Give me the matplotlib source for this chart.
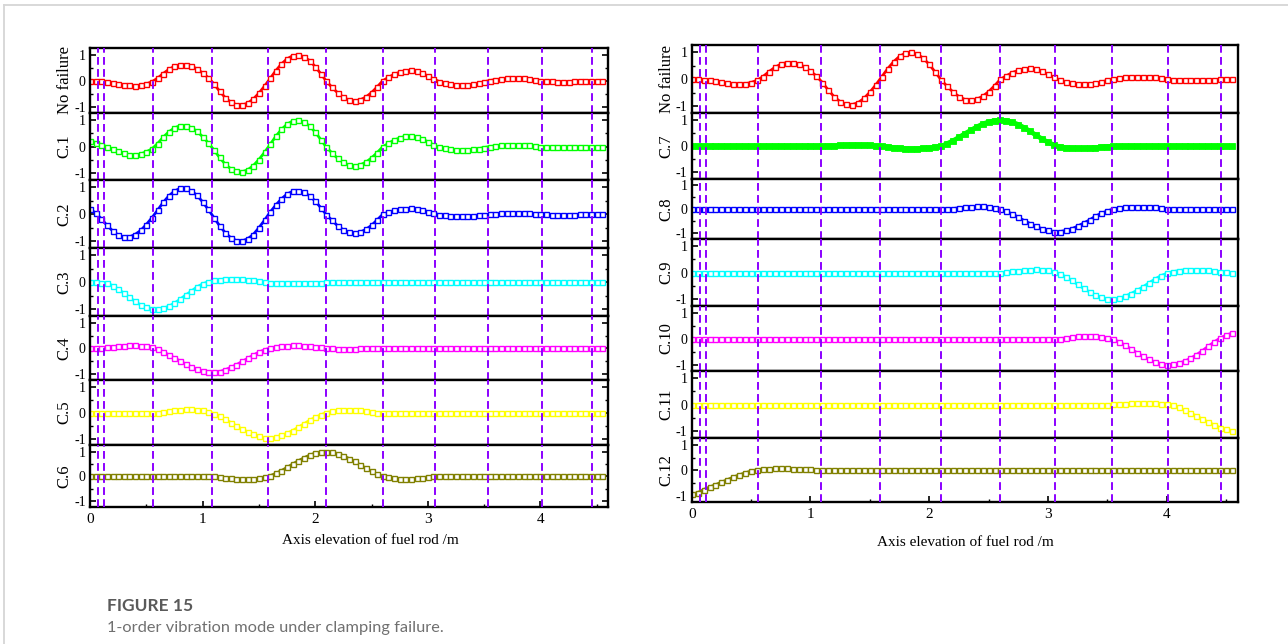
import numpy as np
import matplotlib
matplotlib.use('Agg')
import matplotlib.pyplot as plt
from matplotlib.lines import Line2D
from matplotlib.ticker import MultipleLocator, FixedLocator

plt.rcParams['font.family'] = ['Liberation Serif', 'DejaVu Serif']
plt.rcParams['axes.unicode_minus'] = False

# ---------------- data ----------------
elev = np.round(np.arange(92) * 0.05, 2)          # axis elevation samples (m)
spacers = [0.07, 0.12, 0.56, 1.085, 1.585, 2.10, 2.60, 3.06, 3.535, 4.01, 4.46]

no_failure = [0.00, 0.00, -0.01, -0.03, -0.07, -0.11, -0.15, -0.18, -0.19, -0.17,
              -0.12, -0.04, 0.10, 0.28, 0.44, 0.56, 0.62, 0.62, 0.57, 0.46,
              0.30, 0.12, -0.12, -0.40, -0.65, -0.83, -0.93, -0.94, -0.87, -0.71,
              -0.48, -0.21, 0.09, 0.39, 0.65, 0.85, 0.97, 1.00, 0.93, 0.78,
              0.55, 0.27, -0.02, -0.26, -0.47, -0.64, -0.75, -0.78, -0.74, -0.63,
              -0.46, -0.24, 0.00, 0.13, 0.25, 0.33, 0.39, 0.40, 0.37, 0.29,
              0.19, 0.07, -0.03, -0.09, -0.14, -0.17, -0.18, -0.17, -0.14, -0.10,
              -0.04, 0.01, 0.04, 0.07, 0.09, 0.10, 0.10, 0.09, 0.07, 0.04,
              0.01, -0.01, -0.02, -0.03, -0.03, -0.03, -0.02, -0.02, -0.01, 0.00,
              0.00, 0.00]

c1 = [0.22, 0.16, 0.08, 0.00, -0.08, -0.17, -0.25, -0.30, -0.31, -0.27,
      -0.19, -0.08, 0.12, 0.36, 0.56, 0.71, 0.79, 0.79, 0.72, 0.58,
      0.38, 0.15, -0.12, -0.40, -0.65, -0.83, -0.93, -0.94, -0.87, -0.71,
      -0.48, -0.21, 0.09, 0.39, 0.65, 0.85, 0.97, 1.00, 0.93, 0.78,
      0.55, 0.27, -0.02, -0.24, -0.44, -0.59, -0.69, -0.72, -0.68, -0.58,
      -0.42, -0.22, 0.00, 0.13, 0.25, 0.33, 0.39, 0.40, 0.37, 0.29,
      0.19, 0.07, -0.02, -0.06, -0.10, -0.12, -0.13, -0.12, -0.10, -0.07,
      -0.03, 0.01, 0.03, 0.06, 0.07, 0.08, 0.08, 0.07, 0.06, 0.04,
      0.01, -0.01, -0.02, -0.02, -0.02, -0.02, -0.02, -0.01, -0.01, 0.00,
      0.00, 0.00]

c2 = [0.20, 0.04, -0.16, -0.41, -0.61, -0.77, -0.84, -0.84, -0.75, -0.60,
      -0.38, -0.13, 0.15, 0.44, 0.68, 0.86, 0.96, 0.96, 0.87, 0.70,
      0.46, 0.18, -0.12, -0.42, -0.68, -0.87, -0.98, -0.99, -0.91, -0.75,
      -0.50, -0.22, 0.08, 0.34, 0.57, 0.75, 0.85, 0.88, 0.82, 0.68,
      0.49, 0.24, -0.02, -0.23, -0.43, -0.58, -0.67, -0.70, -0.66, -0.56,
      -0.41, -0.21, 0.00, 0.07, 0.14, 0.18, 0.21, 0.22, 0.20, 0.16,
      0.10, 0.04, -0.01, -0.03, -0.05, -0.06, -0.06, -0.06, -0.05, -0.03,
      -0.01, 0.00, 0.02, 0.03, 0.04, 0.05, 0.05, 0.05, 0.04, 0.02,
      0.00, 0.00, -0.01, -0.01, -0.01, -0.01, -0.01, 0.00, 0.00, 0.00,
      0.00, 0.00]

c3 = [0.00, 0.00, -0.01, -0.03, -0.12, -0.25, -0.40, -0.56, -0.71, -0.84,
      -0.93, -0.98, -1.00, -0.96, -0.89, -0.77, -0.63, -0.47, -0.33, -0.17,
      -0.06, 0.02, 0.07, 0.10, 0.12, 0.13, 0.13, 0.12, 0.10, 0.07,
      0.04, 0.01, -0.01, -0.02, -0.03, -0.03, -0.03, -0.02, -0.02, -0.01,
      -0.01, -0.01, 0.00, 0.00, 0.00, 0.00, 0.00, 0.00, 0.00, 0.00,
      0.00, 0.00, 0.00, 0.00, 0.00, 0.00, 0.00, 0.00, 0.00, 0.00,
      0.00, 0.00, 0.00, 0.00, 0.00, 0.00, 0.00, 0.00, 0.00, 0.00,
      0.00, 0.00, 0.00, 0.00, 0.00, 0.00, 0.00, 0.00, 0.00, 0.00,
      0.00, 0.00, 0.00, 0.00, 0.00, 0.00, 0.00, 0.00, 0.00, 0.00,
      0.00, 0.00]

c4 = [0.00, 0.01, 0.02, 0.04, 0.06, 0.08, 0.10, 0.11, 0.11, 0.10,
      0.07, 0.03, -0.04, -0.13, -0.26, -0.38, -0.50, -0.62, -0.73, -0.83,
      -0.89, -0.94, -0.95, -0.92, -0.85, -0.75, -0.65, -0.52, -0.40, -0.27,
      -0.15, -0.06, 0.01, 0.05, 0.08, 0.10, 0.11, 0.11, 0.10, 0.08,
      0.05, 0.03, 0.01, 0.00, -0.01, -0.01, -0.01, -0.01, 0.00, 0.00,
      0.00, 0.00, 0.00, 0.00, 0.00, 0.00, 0.00, 0.00, 0.00, 0.00,
      0.00, 0.00, 0.00, 0.00, 0.00, 0.00, 0.00, 0.00, 0.00, 0.00,
      0.00, 0.00, 0.00, 0.00, 0.00, 0.00, 0.00, 0.00, 0.00, 0.00,
      0.00, 0.00, 0.00, 0.00, 0.00, 0.00, 0.00, 0.00, 0.00, 0.00,
      0.00, 0.00]

c5 = [0.00, 0.00, 0.00, 0.00, 0.00, 0.00, 0.00, 0.00, 0.00, 0.00,
      0.00, 0.00, 0.01, 0.03, 0.06, 0.09, 0.11, 0.13, 0.13, 0.12,
      0.09, 0.04, -0.03, -0.13, -0.25, -0.38, -0.51, -0.63, -0.74, -0.84,
      -0.92, -0.97, -0.98, -0.94, -0.88, -0.79, -0.69, -0.56, -0.43, -0.29,
      -0.18, -0.08, 0.01, 0.05, 0.09, 0.11, 0.12, 0.11, 0.09, 0.06,
      0.03, 0.01, 0.00, 0.00, 0.00, 0.00, 0.00, 0.00, 0.00, 0.00,
      0.00, 0.00, 0.00, 0.00, 0.00, 0.00, 0.00, 0.00, 0.00, 0.00,
      0.00, 0.00, 0.00, 0.00, 0.00, 0.00, 0.00, 0.00, 0.00, 0.00,
      0.00, 0.00, 0.00, 0.00, 0.00, 0.00, 0.00, 0.00, 0.00, 0.00,
      0.00, 0.00]

c6 = [0.00, 0.00, 0.00, 0.00, 0.00, 0.00, 0.00, 0.00, 0.00, 0.00,
      0.00, 0.00, 0.00, 0.00, 0.00, 0.00, 0.01, 0.01, 0.02, 0.02,
      0.01, 0.00, -0.01, -0.03, -0.06, -0.09, -0.11, -0.12, -0.12, -0.11,
      -0.08, -0.04, 0.02, 0.12, 0.23, 0.36, 0.50, 0.63, 0.75, 0.86,
      0.94, 0.99, 1.00, 0.98, 0.92, 0.84, 0.72, 0.60, 0.46, 0.33,
      0.20, 0.09, 0.00, -0.05, -0.09, -0.11, -0.12, -0.11, -0.09, -0.06,
      -0.03, -0.01, 0.00, 0.00, 0.00, 0.00, 0.00, 0.00, 0.00, 0.00,
      0.00, 0.00, 0.00, 0.00, 0.00, 0.00, 0.00, 0.00, 0.00, 0.00,
      0.00, 0.00, 0.00, 0.00, 0.00, 0.00, 0.00, 0.00, 0.00, 0.00,
      0.00, 0.00]

c7 = [0.00, 0.00, 0.00, 0.00, 0.00, 0.00, 0.00, 0.00, 0.00, 0.00,
      0.00, 0.00, 0.00, 0.00, 0.00, 0.00, 0.00, 0.00, 0.00, 0.00,
      0.00, 0.00, 0.00, 0.01, 0.02, 0.03, 0.04, 0.05, 0.05, 0.04,
      0.03, 0.01, 0.00, -0.02, -0.05, -0.07, -0.09, -0.10, -0.09, -0.08,
      -0.06, -0.03, 0.00, 0.10, 0.21, 0.34, 0.48, 0.61, 0.74, 0.85,
      0.93, 0.98, 1.00, 0.98, 0.92, 0.83, 0.71, 0.57, 0.42, 0.28,
      0.15, 0.05, -0.02, -0.05, -0.07, -0.08, -0.08, -0.07, -0.05, -0.03,
      -0.01, 0.00, 0.00, 0.00, 0.00, 0.00, 0.00, 0.00, 0.00, 0.00,
      0.00, 0.00, 0.00, 0.00, 0.00, 0.00, 0.00, 0.00, 0.00, 0.00,
      0.00, 0.00]

c8 = [0.00, 0.00, 0.00, 0.00, 0.00, 0.00, 0.00, 0.00, 0.00, 0.00,
      0.00, 0.00, 0.00, 0.00, 0.00, 0.00, 0.00, 0.00, 0.00, 0.00,
      0.00, 0.00, 0.00, 0.00, 0.00, 0.00, 0.00, 0.00, 0.00, 0.00,
      0.00, 0.00, 0.00, 0.00, 0.00, 0.00, 0.00, 0.00, 0.00, 0.00,
      0.00, 0.00, 0.00, 0.01, 0.03, 0.06, 0.09, 0.11, 0.12, 0.12,
      0.10, 0.06, 0.01, -0.09, -0.20, -0.33, -0.48, -0.60, -0.72, -0.82,
      -0.89, -0.94, -0.94, -0.89, -0.82, -0.71, -0.58, -0.45, -0.29, -0.17,
      -0.07, 0.01, 0.05, 0.08, 0.10, 0.11, 0.11, 0.10, 0.08, 0.05,
      0.02, 0.00, -0.01, -0.01, -0.01, 0.00, 0.00, 0.00, 0.00, 0.00,
      0.00, 0.00]

c9 = [0.00, 0.00, 0.00, 0.00, 0.00, 0.00, 0.00, 0.00, 0.00, 0.00,
      0.00, 0.00, 0.00, 0.00, 0.00, 0.00, 0.00, 0.00, 0.00, 0.00,
      0.00, 0.00, 0.00, 0.00, 0.00, 0.00, 0.00, 0.00, 0.00, 0.00,
      0.00, 0.00, 0.00, 0.00, 0.00, 0.00, 0.00, 0.00, 0.00, 0.00,
      0.00, 0.00, 0.00, 0.00, 0.00, 0.00, 0.00, 0.00, 0.00, 0.00,
      0.00, 0.00, 0.00, 0.02, 0.05, 0.08, 0.10, 0.12, 0.13, 0.12,
      0.09, 0.04, -0.04, -0.15, -0.29, -0.44, -0.59, -0.72, -0.84, -0.93,
      -0.98, -1.00, -0.96, -0.88, -0.78, -0.66, -0.53, -0.38, -0.24, -0.11,
      -0.02, 0.04, 0.08, 0.11, 0.12, 0.12, 0.11, 0.09, 0.06, 0.04,
      0.02, 0.00]

c10 = [0.00, 0.00, 0.00, 0.00, 0.00, 0.00, 0.00, 0.00, 0.00, 0.00,
       0.00, 0.00, 0.00, 0.00, 0.00, 0.00, 0.00, 0.00, 0.00, 0.00,
       0.00, 0.00, 0.00, 0.00, 0.00, 0.00, 0.00, 0.00, 0.00, 0.00,
       0.00, 0.00, 0.00, 0.00, 0.00, 0.00, 0.00, 0.00, 0.00, 0.00,
       0.00, 0.00, 0.00, 0.00, 0.00, 0.00, 0.00, 0.00, 0.00, 0.00,
       0.00, 0.00, 0.00, 0.00, 0.00, 0.00, 0.00, 0.00, 0.00, 0.00,
       0.00, 0.00, 0.01, 0.03, 0.06, 0.09, 0.11, 0.12, 0.11, 0.08,
       0.04, -0.02, -0.12, -0.25, -0.40, -0.54, -0.68, -0.80, -0.90, -0.96,
       -1.00, -0.99, -0.95, -0.87, -0.76, -0.62, -0.46, -0.29, -0.12, 0.03,
       0.14, 0.22]

c11 = [0.00, 0.00, 0.00, 0.00, 0.00, 0.00, 0.00, 0.00, 0.00, 0.00,
       0.00, 0.00, 0.00, 0.00, 0.00, 0.00, 0.00, 0.00, 0.00, 0.00,
       0.00, 0.00, 0.00, 0.00, 0.00, 0.00, 0.00, 0.00, 0.00, 0.00,
       0.00, 0.00, 0.00, 0.00, 0.00, 0.00, 0.00, 0.00, 0.00, 0.00,
       0.00, 0.00, 0.00, 0.00, 0.00, 0.00, 0.00, 0.00, 0.00, 0.00,
       0.00, 0.00, 0.00, 0.00, 0.00, 0.00, 0.00, 0.00, 0.00, 0.00,
       0.00, 0.00, 0.00, -0.01, -0.02, -0.02, -0.02, -0.02, -0.01, 0.00,
       0.01, 0.02, 0.03, 0.04, 0.05, 0.05, 0.06, 0.06, 0.05, 0.04,
       0.02, -0.02, -0.10, -0.20, -0.31, -0.42, -0.54, -0.65, -0.76, -0.86,
       -0.93, -0.97]

c12 = [-0.95, -0.88, -0.76, -0.66, -0.57, -0.47, -0.37, -0.27, -0.18, -0.10,
       -0.03, 0.02, 0.05, 0.06, 0.07, 0.07, 0.07, 0.06, 0.05, 0.04,
       0.03, 0.02, 0.01, 0.01, 0.01, 0.01, 0.01, 0.01, 0.01, 0.01,
       0.01, 0.01, 0.01, 0.01, 0.01, 0.01, 0.01, 0.01, 0.01, 0.01,
       0.01, 0.01, 0.01, 0.01, 0.01, 0.01, 0.01, 0.01, 0.01, 0.01,
       0.01, 0.01, 0.01, 0.01, 0.01, 0.01, 0.01, 0.01, 0.01, 0.01,
       0.01, 0.01, 0.01, 0.01, 0.01, 0.01, 0.01, 0.01, 0.01, 0.01,
       0.01, 0.01, 0.01, 0.01, 0.01, 0.01, 0.01, 0.01, 0.01, 0.01,
       0.01, 0.01, 0.01, 0.01, 0.01, 0.01, 0.01, 0.01, 0.01, 0.01,
       0.01, 0.01]

left_labels = ['No failure', 'C.1', 'C.2', 'C.3', 'C.4', 'C.5', 'C.6']
right_labels = ['No failure', 'C.7', 'C.8', 'C.9', 'C.10', 'C.11', 'C.12']
left_series = [no_failure, c1, c2, c3, c4, c5, c6]
right_series = [no_failure, c7, c8, c9, c10, c11, c12]
row_colors = ['#ff0000', '#00ff00', '#0000ff', '#00ffff', '#ff00ff', '#ffff00', '#808000']
x_ticks = [0, 1, 2, 3, 4]
y_ticks = [-1, 0, 1]
y_ticklabels = ['-1', '0', '1']
xlabel_text = 'Axis elevation of fuel rod /m'

W, H = 1288, 644
fig = plt.figure(figsize=(W / 100, H / 100), dpi=100)


def draw_panel(px_left, px_right, px_top, px_bottom, ratios, labels, series,
               filled_rows, right_ticks):
    gs = fig.add_gridspec(7, 1, left=px_left / W, right=px_right / W,
                          top=1 - px_top / H, bottom=1 - px_bottom / H,
                          hspace=0, height_ratios=ratios)
    axes = []
    for i in range(7):
        ax = fig.add_subplot(gs[i])
        col = row_colors[i]
        vals = series[i]
        if i in filled_rows:
            ax.plot(elev, vals, color=col, lw=3.4, marker='s', ms=4.0,
                    mfc=col, mec=col, mew=0.6, zorder=2)
        else:
            ax.plot(elev, vals, color=col, lw=2.0, marker='s', ms=3.6,
                    mfc='white', mec=col, mew=1.0, zorder=2)
        for s in spacers:
            ax.axvline(s, color='#8b00ff', lw=1.4, ls=(0, (4, 2.2)), zorder=3)
        ax.set_xlim(0, 4.6)
        ax.set_ylim(-1.25, 1.27)
        ax.yaxis.set_major_locator(FixedLocator(y_ticks))
        ax.set_yticklabels(y_ticklabels)
        ax.yaxis.set_minor_locator(MultipleLocator(0.5))
        ax.tick_params(axis='y', which='both', direction='in', left=True,
                       right=right_ticks, labelsize=10, pad=3)
        ax.tick_params(axis='y', which='major', length=4, width=1.2)
        ax.tick_params(axis='y', which='minor', length=2.5, width=1.0)
        for sp in ax.spines.values():
            sp.set_linewidth(1.7)
        if i < 6:
            ax.set_xticks([])
        else:
            ax.xaxis.set_major_locator(FixedLocator(x_ticks))
            ax.set_xticklabels([str(t) for t in x_ticks])
            ax.xaxis.set_minor_locator(MultipleLocator(0.5))
            ax.tick_params(axis='x', which='both', direction='in', labelsize=11, pad=4)
            ax.tick_params(axis='x', which='major', length=4, width=1.2)
            ax.tick_params(axis='x', which='minor', length=2.5, width=1.0)
        ax.set_ylabel(labels[i], fontsize=12, labelpad=1)
        axes.append(ax)
    fig.align_ylabels(axes)
    return axes


draw_panel(90, 608, 48, 507, [65, 67, 68, 68, 64, 65, 62],
           left_labels, left_series, [], True)
draw_panel(691.7, 1238, 45, 502, [68, 66, 60, 67, 65, 67, 64],
           right_labels, right_series, [1], False)

fig.text(370 / W, 1 - 541 / H, xlabel_text, ha='center', va='center', fontsize=11)
fig.text(965 / W, 1 - 543 / H, xlabel_text, ha='center', va='center', fontsize=11)

fig.text(107 / W, 1 - 611 / H, 'FIGURE 15', family=['Lato', 'DejaVu Sans'],
         fontweight='bold', fontsize=12.5, color='#5a5a5a', va='baseline', ha='left')
fig.text(107 / W, 1 - 632 / H, '1-order vibration mode under clamping failure.',
         family=['Lato', 'DejaVu Sans'], fontsize=11.8, color='#707070',
         va='baseline', ha='left')

fig.add_artist(Line2D([4 / W, 4 / W], [0, 1 - 5 / H], transform=fig.transFigure,
                      color='#d6d6d6', lw=1.3))
fig.add_artist(Line2D([4 / W, 1], [1 - 5 / H, 1 - 5 / H], transform=fig.transFigure,
                      color='#d6d6d6', lw=1.3))

fig.savefig('out.png', dpi=100)
